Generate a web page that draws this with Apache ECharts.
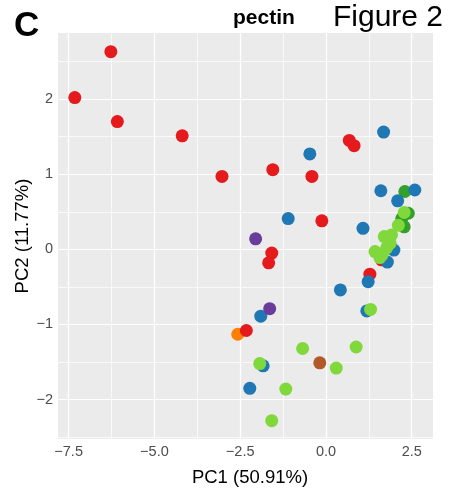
<!DOCTYPE html>
<html lang="en">
<head>
<meta charset="UTF-8">
<title>pectin</title>
<script src="https://cdn.jsdelivr.net/npm/echarts@6/dist/echarts.min.js"></script>
<style>
    html, body { margin: 0; padding: 0; background: #fff; }
    #chart { width: 455px; height: 488px; }
</style>
</head>
<body>
<div id="chart"></div>
<script>
    // axis ticks and grid positions
    var xTicks = [-7.5, -5, -2.5, 0, 2.5];
    var xMinor = [-6.25, -3.75, -1.25, 1.25];
    var yTicks = [-2, -1, 0, 1, 2];
    var yMinor = [-2.5, -1.5, -0.5, 0.5, 1.5, 2.5];

    // PCA scores per group [PC1, PC2]
    var orangePts = [[-2.57, -1.13]];
    var redPts = [
        [-6.27, 2.63], [-7.32, 2.02], [-6.08, 1.70], [-4.19, 1.51], [-3.03, 0.97],
        [-1.55, 1.06], [-0.41, 0.97], [0.68, 1.45], [0.82, 1.38], [-0.12, 0.38],
        [-1.58, -0.05], [-1.67, -0.18], [1.62, -0.14], [1.28, -0.33], [-2.32, -1.08]
    ];
    var darkGreenPts = [[2.30, 0.77], [2.40, 0.48], [2.21, 0.41], [2.28, 0.30]];
    var bluePts = [
        [1.68, 1.56], [-0.47, 1.27], [1.60, 0.78], [2.09, 0.645], [2.59, 0.79],
        [-1.10, 0.41], [1.08, 0.28], [1.98, -0.01], [1.79, -0.17], [1.23, -0.43],
        [0.42, -0.54], [-1.90, -0.89], [1.19, -0.82], [-1.83, -1.55], [-2.22, -1.85]
    ];
    var lightGreenPts = [
        [2.28, 0.49], [2.11, 0.32], [1.91, 0.19], [1.70, 0.17], [1.87, 0.08],
        [1.77, 0.02], [1.43, -0.03], [1.64, -0.07], [1.57, -0.11], [1.30, -0.80],
        [-0.68, -1.32], [0.88, -1.30], [0.30, -1.58], [-1.93, -1.52], [-1.17, -1.86],
        [-1.58, -2.28]
    ];
    var purplePts = [[-2.05, 0.14], [-1.64, -0.79]];
    var brownPts = [[-0.18, -1.51]];

    var font = '"Liberation Sans", Arial, Helvetica, sans-serif';

    function minus(v, d) {
        return v.toFixed(d).replace('-', '\u2212');
    }

    // white panel grid, drawn under the points
    var gridLines = [];
    xTicks.forEach(function (v) { gridLines.push({ xAxis: v, lineStyle: { width: 1.2 } }); });
    xMinor.forEach(function (v) { gridLines.push({ xAxis: v, lineStyle: { width: 0.7 } }); });
    yTicks.forEach(function (v) { gridLines.push({ yAxis: v, lineStyle: { width: 1.2 } }); });
    yMinor.forEach(function (v) { gridLines.push({ yAxis: v, lineStyle: { width: 0.7 } }); });

    function pts(name, data, color) {
        return {
            name: name,
            type: 'scatter',
            data: data,
            symbolSize: 13,
            z: 3,
            itemStyle: { color: color, opacity: 1 },
            emphasis: { disabled: true }
        };
    }

    var series = [
        {
            name: 'grid',
            type: 'scatter',
            data: [],
            silent: true,
            markLine: {
                silent: true,
                z: 1,
                symbol: 'none',
                label: { show: false },
                animation: false,
                lineStyle: { color: '#ffffff', type: 'solid' },
                data: gridLines
            }
        },
        pts('orange', orangePts, '#FF7F00'),
        pts('red', redPts, '#E41A1C'),
        pts('darkgreen', darkGreenPts, '#33A02C'),
        pts('blue', bluePts, '#1F78B4'),
        pts('lightgreen', lightGreenPts, '#80D83B'),
        pts('purple', purplePts, '#6A3D9A'),
        pts('brown', brownPts, '#B15928')
    ];

    var chart = echarts.init(document.getElementById('chart'));
    chart.setOption({
        backgroundColor: '#ffffff',
        animation: false,
        grid: {
            left: 58, right: 22, top: 33, bottom: 49,
            show: true,
            backgroundColor: '#EBEBEB',
            borderWidth: 0
        },
        xAxis: {
            type: 'value',
            min: -7.81, max: 3.12,
            axisLine: { show: false },
            axisTick: { show: true, length: 4, customValues: xTicks, lineStyle: { color: '#333' } },
            axisLabel: {
                customValues: xTicks, color: '#4D4D4D', fontSize: 14.5, fontFamily: font, margin: 5,
                formatter: function (v) { return minus(v, 1); }
            },
            splitLine: { show: false }
        },
        yAxis: {
            type: 'value',
            min: -2.524, max: 2.879,
            axisLine: { show: false },
            axisTick: { show: true, length: 4, customValues: yTicks, lineStyle: { color: '#333' } },
            axisLabel: {
                customValues: yTicks, color: '#4D4D4D', fontSize: 14.5, fontFamily: font, margin: 5,
                formatter: function (v) { return minus(v, 0); }
            },
            splitLine: { show: false }
        },
        graphic: [
            { type: 'text', left: 14, top: 9,
              style: { text: 'C', font: 'bold 35px ' + font, fill: '#000' } },
            { type: 'text', left: 233, top: 8,
              style: { text: 'pectin', font: 'bold 21px ' + font, fill: '#000' } },
            { type: 'text', left: 333, top: 3,
              style: { text: 'Figure 2', font: '30px ' + font, fill: '#000' } },
            { type: 'text', x: 250, y: 478,
              style: { text: 'PC1 (50.91%)', font: '18.5px ' + font, fill: '#000',
                       align: 'center', verticalAlign: 'middle' } },
            { type: 'text', x: 23, y: 236, rotation: Math.PI / 2,
              style: { text: 'PC2 (11.77%)', font: '18.5px ' + font, fill: '#000',
                       align: 'center', verticalAlign: 'middle' } }
        ],
        series: series
    });
</script>
</body>
</html>
